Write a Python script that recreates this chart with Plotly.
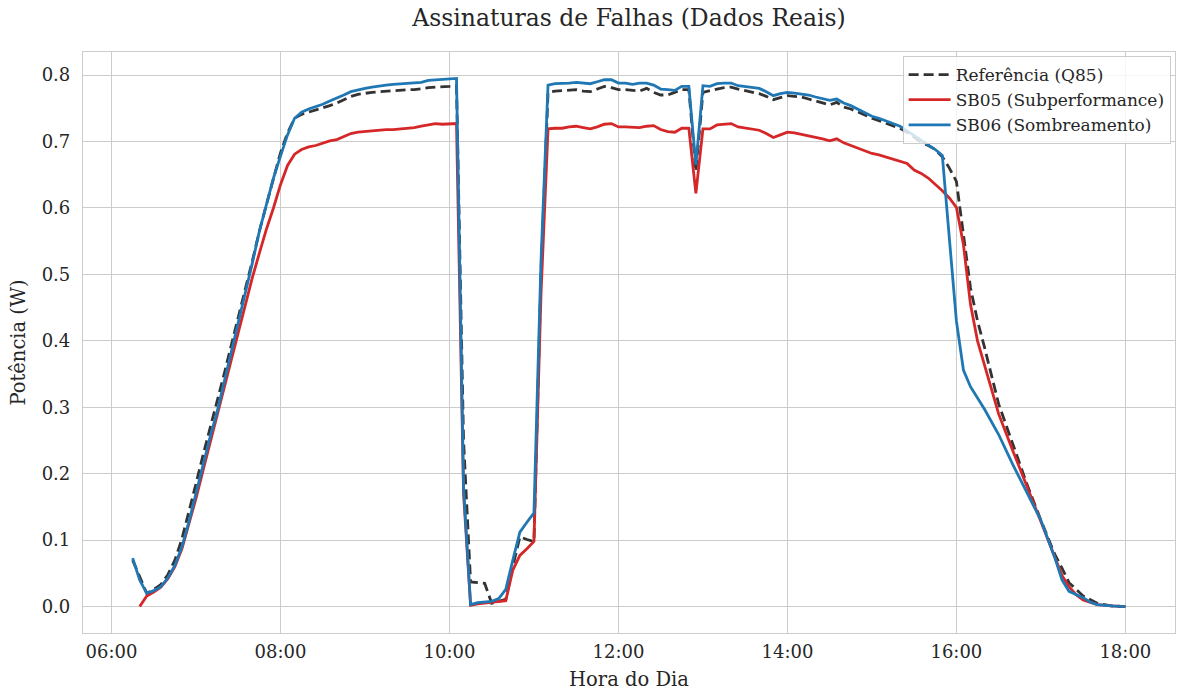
import pandas as pd
import plotly.graph_objects as go

# ---- data: power (W) per time of day ----
ref_times = ["06:15", "06:20", "06:25", "06:30", "06:35", "06:40", "06:45", "06:50", "06:55",
             "07:00", "07:05", "07:10", "07:15", "07:20", "07:25", "07:30", "07:35", "07:40",
             "07:45", "07:50", "07:55", "08:00", "08:05", "08:10", "08:15", "08:20", "08:25",
             "08:30", "08:35", "08:40", "08:45", "08:50", "08:55", "09:00", "09:05", "09:10",
             "09:15", "09:20", "09:25", "09:30", "09:35", "09:40", "09:45", "09:50", "09:55",
             "10:00", "10:05", "10:10", "10:15", "10:20", "10:25", "10:30", "10:35", "10:40",
             "10:45", "10:50", "10:55", "11:00", "11:05", "11:10", "11:15", "11:20", "11:25",
             "11:30", "11:35", "11:40", "11:45", "11:50", "11:55", "12:00", "12:05", "12:10",
             "12:15", "12:20", "12:25", "12:30", "12:35", "12:40", "12:45", "12:50", "12:55",
             "13:00", "13:05", "13:10", "13:15", "13:20", "13:25", "13:30", "13:35", "13:40",
             "13:45", "13:50", "13:55", "14:00", "14:05", "14:10", "14:15", "14:20", "14:25",
             "14:30", "14:35", "14:40", "14:45", "14:50", "14:55", "15:00", "15:05", "15:10",
             "15:15", "15:20", "15:25", "15:30", "15:35", "15:40", "15:45", "15:50", "15:55",
             "16:00", "16:05", "16:10", "16:15", "16:20", "16:30", "16:40", "16:50", "17:00",
             "17:10", "17:15", "17:20", "17:30", "17:40", "17:50", "18:00"]
ref_values = [0.070, 0.045, 0.020, 0.026, 0.033, 0.048, 0.070, 0.102, 0.142,
              0.185, 0.228, 0.268, 0.307, 0.350, 0.393, 0.437, 0.478, 0.520,
              0.565, 0.605, 0.645, 0.683, 0.713, 0.735, 0.741, 0.744, 0.747,
              0.751, 0.754, 0.758, 0.763, 0.768, 0.771, 0.773, 0.774, 0.775,
              0.776, 0.777, 0.777, 0.778, 0.778, 0.780, 0.781, 0.782, 0.782,
              0.783, 0.784, 0.250, 0.037, 0.036, 0.035, 0.005, 0.008, 0.011,
              0.060, 0.105, 0.101, 0.098, 0.500, 0.774, 0.776, 0.777, 0.778,
              0.778, 0.776, 0.775, 0.779, 0.783, 0.781, 0.778, 0.778, 0.777,
              0.776, 0.780, 0.774, 0.770, 0.770, 0.774, 0.778, 0.778, 0.655,
              0.774, 0.777, 0.779, 0.781, 0.782, 0.779, 0.777, 0.775, 0.772,
              0.768, 0.763, 0.766, 0.769, 0.768, 0.767, 0.764, 0.761, 0.758,
              0.755, 0.759, 0.752, 0.749, 0.745, 0.740, 0.735, 0.731, 0.728,
              0.724, 0.720, 0.714, 0.707, 0.699, 0.694, 0.688, 0.677, 0.660,
              0.640, 0.560, 0.480, 0.430, 0.390, 0.305, 0.245, 0.185, 0.130,
              0.078, 0.058, 0.036, 0.016, 0.005, 0.001, 0.000]

sb05_times = ["06:20", "06:25", "06:30", "06:35", "06:40", "06:45", "06:50", "06:55",
              "07:00", "07:05", "07:10", "07:15", "07:20", "07:25", "07:30", "07:35", "07:40",
              "07:45", "07:50", "07:55", "08:00", "08:05", "08:10", "08:15", "08:20", "08:25",
              "08:30", "08:35", "08:40", "08:45", "08:50", "08:55", "09:00", "09:05", "09:10",
              "09:15", "09:20", "09:25", "09:30", "09:35", "09:40", "09:45", "09:50", "09:55",
              "10:00", "10:05", "10:10", "10:15", "10:20", "10:25", "10:30", "10:35", "10:40",
              "10:45", "10:50", "10:55", "11:00", "11:05", "11:10", "11:15", "11:20", "11:25",
              "11:30", "11:35", "11:40", "11:45", "11:50", "11:55", "12:00", "12:05", "12:10",
              "12:15", "12:20", "12:25", "12:30", "12:35", "12:40", "12:45", "12:50", "12:55",
              "13:00", "13:05", "13:10", "13:15", "13:20", "13:25", "13:30", "13:35", "13:40",
              "13:45", "13:50", "13:55", "14:00", "14:05", "14:10", "14:15", "14:20", "14:25",
              "14:30", "14:35", "14:40", "14:45", "14:50", "14:55", "15:00", "15:05", "15:10",
              "15:15", "15:20", "15:25", "15:30", "15:35", "15:40", "15:45", "15:50", "15:55",
              "16:00", "16:05", "16:10", "16:15", "16:20", "16:30", "16:40", "16:50", "17:00",
              "17:10", "17:15", "17:20", "17:25", "17:30", "17:40", "17:50", "18:00"]
sb05_values = [0.000, 0.016, 0.022, 0.029, 0.042, 0.060, 0.087, 0.123,
               0.163, 0.205, 0.246, 0.287, 0.330, 0.372, 0.414, 0.455, 0.495,
               0.532, 0.568, 0.600, 0.635, 0.664, 0.681, 0.688, 0.692, 0.694,
               0.698, 0.701, 0.703, 0.708, 0.712, 0.714, 0.715, 0.716, 0.718,
               0.718, 0.718, 0.719, 0.719, 0.721, 0.723, 0.725, 0.727, 0.726,
               0.727, 0.727, 0.170, 0.002, 0.004, 0.005, 0.006, 0.007, 0.009,
               0.055, 0.077, 0.087, 0.098, 0.470, 0.719, 0.720, 0.720, 0.722,
               0.723, 0.721, 0.719, 0.722, 0.726, 0.727, 0.722, 0.722, 0.722,
               0.721, 0.723, 0.724, 0.718, 0.715, 0.714, 0.720, 0.720, 0.622,
               0.719, 0.719, 0.725, 0.726, 0.727, 0.722, 0.720, 0.719, 0.717,
               0.712, 0.706, 0.710, 0.714, 0.713, 0.711, 0.709, 0.706, 0.704,
               0.701, 0.704, 0.698, 0.694, 0.691, 0.686, 0.682, 0.680, 0.677,
               0.674, 0.671, 0.667, 0.657, 0.652, 0.645, 0.636, 0.626, 0.615,
               0.601, 0.545, 0.455, 0.400, 0.362, 0.290, 0.235, 0.183, 0.128,
               0.074, 0.047, 0.030, 0.018, 0.010, 0.003, 0.001, 0.000]

sb06_times = ["06:15", "06:20", "06:25", "06:30", "06:35", "06:40", "06:45", "06:50", "06:55",
              "07:00", "07:05", "07:10", "07:15", "07:20", "07:25", "07:30", "07:35", "07:40",
              "07:45", "07:50", "07:55", "08:00", "08:05", "08:10", "08:15", "08:20", "08:25",
              "08:30", "08:35", "08:40", "08:45", "08:50", "08:55", "09:00", "09:05", "09:10",
              "09:15", "09:20", "09:25", "09:30", "09:35", "09:40", "09:45", "09:50", "09:55",
              "10:00", "10:05", "10:10", "10:15", "10:20", "10:25", "10:30", "10:35", "10:40",
              "10:45", "10:50", "10:55", "11:00", "11:05", "11:10", "11:15", "11:20", "11:25",
              "11:30", "11:35", "11:40", "11:45", "11:50", "11:55", "12:00", "12:05", "12:10",
              "12:15", "12:20", "12:25", "12:30", "12:35", "12:40", "12:45", "12:50", "12:55",
              "13:00", "13:05", "13:10", "13:15", "13:20", "13:25", "13:30", "13:35", "13:40",
              "13:45", "13:50", "13:55", "14:00", "14:05", "14:10", "14:15", "14:20", "14:25",
              "14:30", "14:35", "14:40", "14:45", "14:50", "14:55", "15:00", "15:05", "15:10",
              "15:15", "15:20", "15:25", "15:30", "15:35", "15:40", "15:45", "15:50",
              "16:00", "16:05", "16:10", "16:20", "16:30", "16:40", "16:50", "17:00",
              "17:10", "17:15", "17:20", "17:30", "17:35", "17:40", "17:50", "18:00"]
sb06_values = [0.073, 0.040, 0.020, 0.024, 0.030, 0.043, 0.062, 0.090, 0.128,
               0.170, 0.215, 0.255, 0.293, 0.337, 0.382, 0.428, 0.472, 0.517,
               0.565, 0.605, 0.645, 0.678, 0.710, 0.735, 0.744, 0.749, 0.752,
               0.756, 0.761, 0.765, 0.770, 0.775, 0.778, 0.780, 0.782, 0.784,
               0.785, 0.786, 0.787, 0.788, 0.788, 0.789, 0.792, 0.793, 0.793,
               0.794, 0.795, 0.180, 0.003, 0.006, 0.007, 0.008, 0.012, 0.026,
               0.070, 0.112, 0.127, 0.141, 0.520, 0.785, 0.787, 0.787, 0.788,
               0.789, 0.788, 0.787, 0.790, 0.793, 0.793, 0.788, 0.788, 0.786,
               0.788, 0.788, 0.785, 0.779, 0.778, 0.777, 0.783, 0.783, 0.665,
               0.784, 0.783, 0.787, 0.788, 0.788, 0.784, 0.783, 0.782, 0.780,
               0.775, 0.769, 0.772, 0.774, 0.773, 0.772, 0.770, 0.767, 0.765,
               0.762, 0.764, 0.758, 0.754, 0.749, 0.743, 0.738, 0.735, 0.731,
               0.727, 0.723, 0.716, 0.709, 0.702, 0.695, 0.688, 0.679,
               0.430, 0.356, 0.331, 0.297, 0.259, 0.214, 0.171, 0.130,
               0.073, 0.040, 0.023, 0.0135, 0.007, 0.003, 0.001, 0.000]

series_names = ["Referência (Q85)", "SB05 (Subperformance)", "SB06 (Sombreamento)"]
tick_labels = ["06:00", "08:00", "10:00", "12:00", "14:00", "16:00", "18:00"]
y_ticks = [0.0, 0.1, 0.2, 0.3, 0.4, 0.5, 0.6, 0.7, 0.8]

DAY = "2024-01-01 "


def to_dt(times):
    return pd.to_datetime([DAY + t for t in times])


FONT = "DejaVu Serif"
TXT = "#262626"
GRID = "#cccccc"
LW = 2.8

fig = go.Figure()
fig.add_trace(go.Scatter(x=to_dt(ref_times), y=ref_values, mode="lines", name=series_names[0],
                         line=dict(color="#333333", width=LW, dash="10px,5px")))
fig.add_trace(go.Scatter(x=to_dt(sb05_times), y=sb05_values, mode="lines", name=series_names[1],
                         line=dict(color="#d62728", width=LW)))
fig.add_trace(go.Scatter(x=to_dt(sb06_times), y=sb06_values, mode="lines", name=series_names[2],
                         line=dict(color="#1f77b4", width=LW)))

# axis limits with 5% padding around the data
all_t = to_dt(ref_times + sb05_times + sb06_times)
t0, t1 = all_t.min(), all_t.max()
pad_t = (t1 - t0) * 0.05
all_v = ref_values + sb05_values + sb06_values
v0, v1 = min(all_v), max(all_v)
pad_v = (v1 - v0) * 0.05

fig.update_layout(
    width=1180, height=691,
    margin=dict(l=83, r=5, t=52, b=58),
    paper_bgcolor="white", plot_bgcolor="white",
    font=dict(family=FONT, color=TXT, size=18),
    title=dict(text="Assinaturas de Falhas (Dados Reais)", x=0.5, xref="paper",
               y=1 - 18 / 691, yref="container", yanchor="middle",
               font=dict(family=FONT, size=23.5, color=TXT)),
    showlegend=True,
    legend=dict(x=0.996, xanchor="right", y=0.993, yanchor="top",
                bgcolor="rgba(255,255,255,0.8)", bordercolor=GRID, borderwidth=1,
                font=dict(family=FONT, size=17, color=TXT), tracegroupgap=0,
                itemwidth=42),
)
fig.update_xaxes(
    type="date", range=[t0 - pad_t, t1 + pad_t],
    tickvals=pd.to_datetime([DAY + t for t in tick_labels]), ticktext=tick_labels,
    showgrid=True, gridcolor=GRID, gridwidth=1.2, zeroline=False,
    showline=True, linecolor=GRID, linewidth=1.2, mirror=True,
    ticks="", ticklabelstandoff=2,
    title=dict(text="Hora do Dia", font=dict(family=FONT, size=19.5, color=TXT), standoff=11),
)
fig.update_yaxes(
    range=[v0 - pad_v, v1 + pad_v],
    tickvals=y_ticks, ticktext=[f"{v:.1f}" for v in y_ticks],
    showgrid=True, gridcolor=GRID, gridwidth=1.2, zeroline=False,
    showline=True, linecolor=GRID, linewidth=1.2, mirror=True,
    ticks="", ticklabelstandoff=8,
    title=dict(text="Potência (W)", font=dict(family=FONT, size=19.5, color=TXT), standoff=10),
)

fig.write_html("out.html")
